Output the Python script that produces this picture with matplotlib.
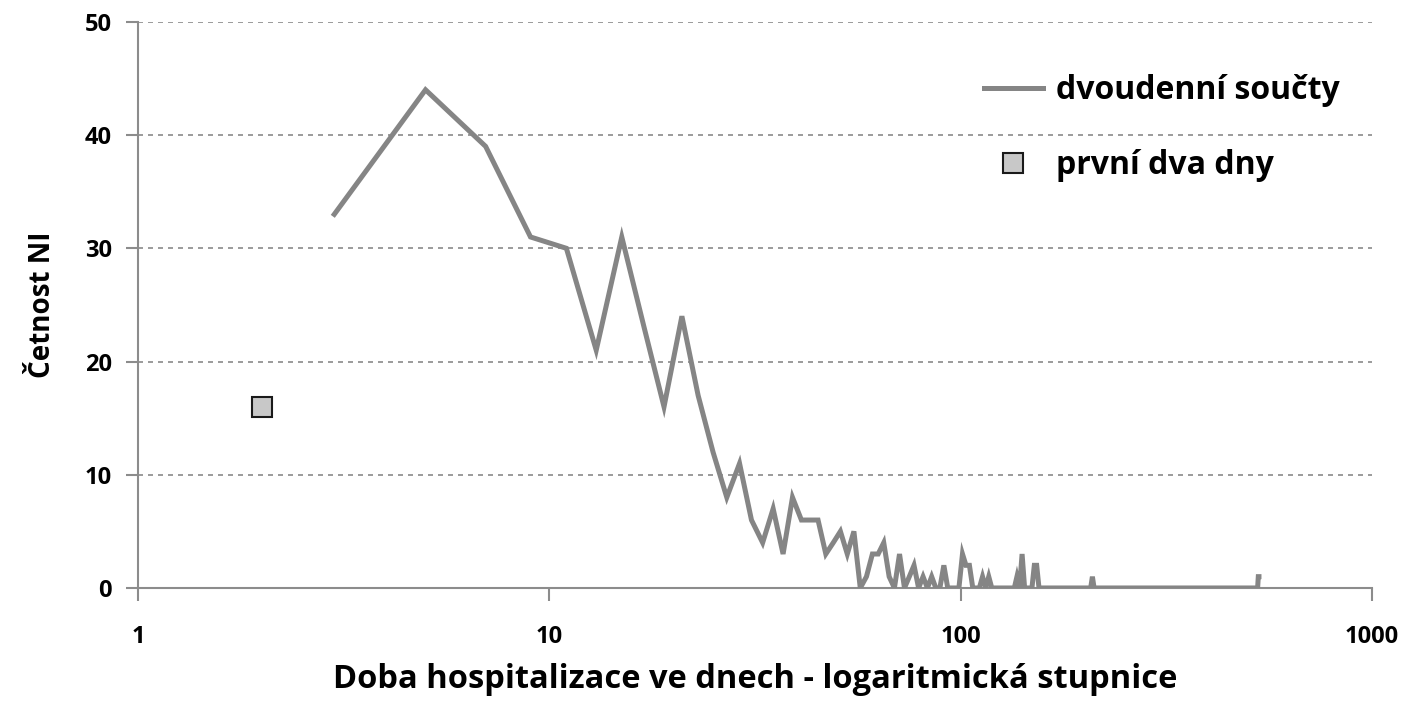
import matplotlib.pyplot as plt
from matplotlib.ticker import FixedLocator, NullLocator

# two-day sums (odd day = centre of the two-day bin); long zero runs kept by their endpoints
days = [3, 5, 7, 9, 11, 13, 15, 17, 19, 21, 23, 25, 27, 29, 31, 33, 35, 37, 39, 41,
        43, 45, 47, 49, 51, 53, 55, 57, 59, 61, 63, 65, 67, 69, 71, 73, 75, 77, 79, 81,
        83, 85, 87, 89, 91, 93, 99, 101, 103, 105, 107, 111, 113, 115, 117, 119, 135, 137,
        139, 141, 143, 149, 151, 153, 155, 207, 209, 211, 527, 529, 531]
counts = [33, 44, 39, 31, 30, 21, 31, 23, 16, 24, 17, 12, 8, 11, 6, 4, 7, 3, 8, 6,
          6, 6, 3, 4, 5, 3, 5, 0, 1, 3, 3, 4, 1, 0, 3, 0, 1, 2, 0, 1,
          0, 1, 0, 0, 2, 0, 0, 3, 2, 2, 0, 0, 1, 0, 1, 0, 0, 1,
          0, 3, 0, 0, 2, 2, 0, 0, 1, 0, 0, 1, 1]

first_days_x = [2]
first_days_y = [16]

x_ticks = [1, 10, 100, 1000]
y_ticks = [0, 10, 20, 30, 40, 50]

plt.rcParams['font.family'] = ['Open Sans', 'DejaVu Sans']
plt.rcParams['font.weight'] = 'bold'

fig = plt.figure(figsize=(14.11, 7.05), dpi=100)
ax = fig.add_axes([0.0978, 0.166, 0.8746, 0.803])

ax.plot(days, counts, color='#858585', lw=3.6, solid_joinstyle='miter',
        label='dvoudenní součty', zorder=3)
ax.plot(first_days_x, first_days_y, ls='none', marker='s', ms=14,
        mfc='#c8c8c8', mec='#1a1a1a', mew=1.5, label='první dva dny', zorder=3)

ax.set_xscale('log')
ax.set_xlim(1, 1000)
ax.set_ylim(0, 50)
ax.xaxis.set_major_locator(FixedLocator(x_ticks))
ax.xaxis.set_minor_locator(NullLocator())
ax.set_xticklabels([str(t) for t in x_ticks])
ax.set_yticks(y_ticks)

for y in y_ticks[1:]:
    ax.axhline(y, color='#8a8a8a', lw=1.2, ls=(0, (3, 3)), zorder=1)

for s in ['top', 'right']:
    ax.spines[s].set_visible(False)
for s in ['left', 'bottom']:
    ax.spines[s].set_color('#8c8c8c')
    ax.spines[s].set_linewidth(1.5)

ax.tick_params(axis='both', direction='out', length=9, width=1.5, color='#8c8c8c',
               labelsize=17, pad=10)
ax.tick_params(axis='x', pad=18)

ax.set_xlabel('Doba hospitalizace ve dnech - logaritmická stupnice', fontsize=23.5,
              fontweight='bold', labelpad=10)
ax.set_ylabel('Četnost NI', fontsize=20, fontweight='bold', labelpad=20)

ax.legend(loc='upper left', bbox_to_anchor=(0.675, 0.93), frameon=False, fontsize=23,
          handlelength=1.85, handletextpad=0.4, labelspacing=1.3, borderaxespad=0)

fig.savefig('out.png', dpi=100)
